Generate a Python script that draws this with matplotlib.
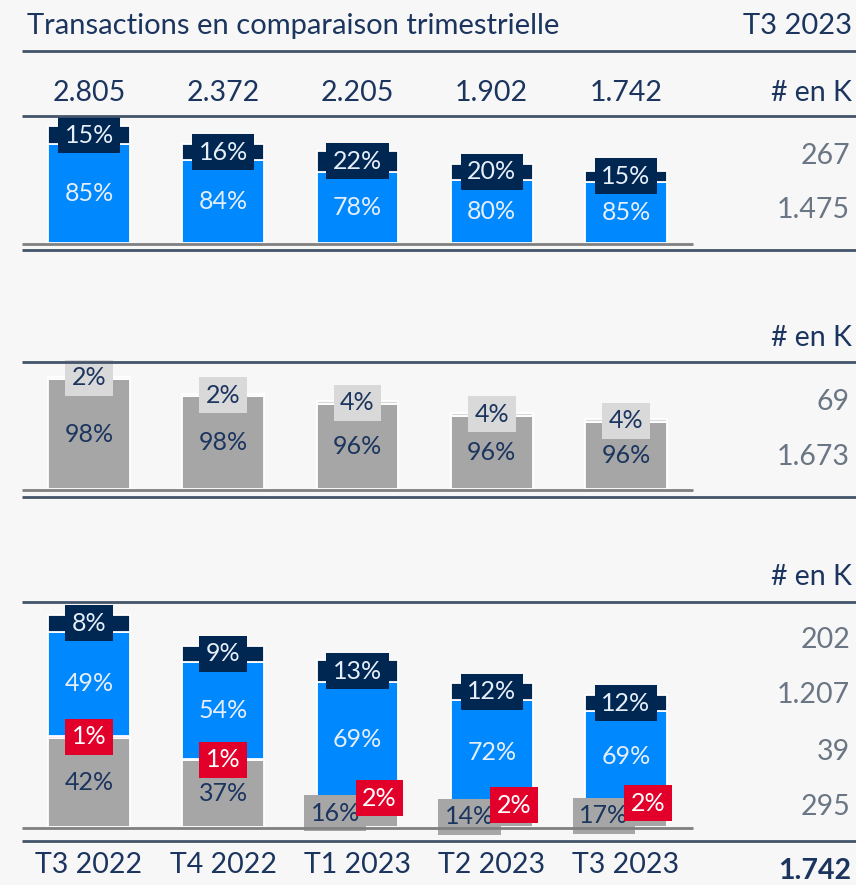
import matplotlib
matplotlib.use('Agg')
import matplotlib.pyplot as plt
from matplotlib.lines import Line2D
import numpy as np

# ---------------- data ----------------
quarters = ['T3 2022', 'T4 2022', 'T1 2023', 'T2 2023', 'T3 2023']
totals = [2805, 2372, 2205, 1902, 1742]
total_labels = ['2.805', '2.372', '2.205', '1.902', '1.742']

p1_top_pct = [15, 16, 22, 20, 15]
p1_bot_pct = [85, 84, 78, 80, 85]
p1_right = ['267', '1.475']

p2_top_pct = [2, 2, 4, 4, 4]
p2_bot_pct = [98, 98, 96, 96, 96]
p2_right = ['69', '1.673']

p3_gray_pct = [42, 37, 16, 14, 17]
p3_red_pct = [1, 1, 2, 2, 2]
p3_blue_pct = [49, 54, 69, 72, 69]
p3_navy_pct = [8, 9, 13, 12, 12]
p3_right = ['202', '1.207', '39', '295']
grand_total = '1.742'

# ---------------- style ----------------
W, H = 856, 885
BG = '#f7f7f7'
NAVY = '#002652'
BLUE = '#0088ff'
RED = '#e2002b'
GRAY = '#a6a6a6'
LGRAY = '#d9d9d9'
TXT = '#1c355e'
RTXT = '#6b7684'
LINE = '#44546a'
BASE = '#808080'
FONT = ['Lato', 'DejaVu Sans']
plt.rcParams['font.family'] = FONT

fig = plt.figure(figsize=(W / 100, H / 100), dpi=100, facecolor=BG)


def fx(x):
    return x / W


def fy(y):
    return 1 - y / H


def hline(y, x0, x1, color, lw):
    fig.add_artist(Line2D([fx(x0), fx(x1)], [fy(y), fy(y)], transform=fig.transFigure,
                          color=color, lw=lw, solid_capstyle='butt'))


def ftext(x, y, s, ha='left', color=TXT, size=20.5, weight='normal'):
    fig.text(fx(x), fy(y), s, ha=ha, va='center', color=color, fontsize=size,
             fontweight=weight)


def make_ax(top, base, px_per_unit):
    ax = fig.add_axes([fx(22), fy(base), (693 - 22) / W, (base - top) / H])
    ax.set_xlim(-0.5, 4.5)
    ax.set_ylim(0, (base - top) / px_per_unit)
    ax.axis('off')
    ax.patch.set_alpha(0)
    return ax


x = np.arange(len(quarters))
tot = np.array(totals, dtype=float)
BW = 0.61
LBL = 18


def label(ax, xx, yy, s, fc=None, tc='white'):
    kw = {}
    if fc is not None:
        kw['bbox'] = dict(boxstyle='square,pad=0.26', fc=fc, ec='none')
    ax.text(xx, yy, s, ha='center', va='center', color=tc, fontsize=LBL, **kw)


# ---------------- header ----------------
ftext(27, 26, 'Transactions en comparaison trimestrielle', size=21)
ftext(852, 26, 'T3 2023', ha='right', size=21)
hline(51, 22, 856, LINE, 2)
for xi, t in zip(x, total_labels):
    ftext(89 + xi * 134.25, 93, t, ha='center')
ftext(852, 93, '# en K', ha='right')
hline(116, 22, 856, LINE, 2)

# ---------------- panel 1 ----------------
ax1 = make_ax(116, 243.5, 0.0418)
bot1 = tot * np.array(p1_bot_pct) / 100
top1 = tot * np.array(p1_top_pct) / 100
ax1.bar(x, bot1, width=BW, color=BLUE, edgecolor='white', linewidth=1.3)
ax1.bar(x, top1, bottom=bot1, width=BW, color=NAVY, edgecolor='white', linewidth=1.3)
for i in range(len(x)):
    label(ax1, x[i], bot1[i] / 2, f'{p1_bot_pct[i]}%', tc='#e6eef8')
    label(ax1, x[i], bot1[i] + top1[i] / 2, f'{p1_top_pct[i]}%', fc=NAVY, tc='#e6eef8')
ftext(850, 156, p1_right[0], ha='right', color=RTXT)
ftext(850, 210, p1_right[1], ha='right', color=RTXT)
hline(244, 22, 693, BASE, 2)
hline(250, 22, 856, LINE, 2)

# ---------------- panel 2 ----------------
ftext(852, 338, '# en K', ha='right')
hline(362, 22, 856, LINE, 2)
ax2 = make_ax(362, 489, 0.0400)
bot2 = tot * np.array(p2_bot_pct) / 100
top2 = tot * np.array(p2_top_pct) / 100
ax2.bar(x, bot2, width=BW, color=GRAY, edgecolor='white', linewidth=1.3)
ax2.bar(x, top2, bottom=bot2, width=BW, color=LGRAY, edgecolor='white', linewidth=1.3)
for i in range(len(x)):
    label(ax2, x[i], bot2[i] / 2, f'{p2_bot_pct[i]}%', tc=TXT)
    label(ax2, x[i], bot2[i] + top2[i] / 2, f'{p2_top_pct[i]}%', fc=LGRAY, tc=TXT)
ftext(850, 402, p2_right[0], ha='right', color=RTXT)
ftext(850, 457, p2_right[1], ha='right', color=RTXT)
hline(490, 22, 693, BASE, 2)
hline(497, 22, 856, LINE, 2)

# ---------------- panel 3 ----------------
ftext(852, 577, '# en K', ha='right')
hline(602, 22, 856, LINE, 2)
ax3 = make_ax(602, 826.7, 0.0755)
g = tot * np.array(p3_gray_pct) / 100
r = tot * np.array(p3_red_pct) / 100
b = tot * np.array(p3_blue_pct) / 100
n = tot * np.array(p3_navy_pct) / 100
ax3.bar(x, g, width=BW, color=GRAY, edgecolor='white', linewidth=1.3)
ax3.bar(x, r, bottom=g, width=BW, color=RED, edgecolor='white', linewidth=1.3)
ax3.bar(x, b, bottom=g + r, width=BW, color=BLUE, edgecolor='white', linewidth=1.3)
ax3.bar(x, n, bottom=g + r + b, width=BW, color=NAVY, edgecolor='white', linewidth=1.3)
for i in range(len(x)):
    small = p3_gray_pct[i] < 25
    dx = 0.165 if small else 0.0
    label(ax3, x[i] - dx, g[i] / 2, f'{p3_gray_pct[i]}%', fc=GRAY if small else None, tc=TXT)
    label(ax3, x[i] + dx, g[i] + r[i] / 2, f'{p3_red_pct[i]}%', fc=RED, tc='white')
    label(ax3, x[i], g[i] + r[i] + b[i] / 2, f'{p3_blue_pct[i]}%', tc='#e6eef8')
    label(ax3, x[i], g[i] + r[i] + b[i] + n[i] / 2, f'{p3_navy_pct[i]}%', fc=NAVY, tc='#e6eef8')
for s, yy in zip(p3_right, [640, 695, 752, 807]):
    ftext(850, yy, s, ha='right', color=RTXT)
hline(827.5, 22, 693, BASE, 2)
hline(841, 22, 856, LINE, 2)
for xi, q in zip(x, quarters):
    ftext(89 + xi * 134.25, 865, q, ha='center')
ftext(851, 871, grand_total, ha='right', weight='bold')

fig.savefig('out.png', dpi=100, facecolor=BG)
